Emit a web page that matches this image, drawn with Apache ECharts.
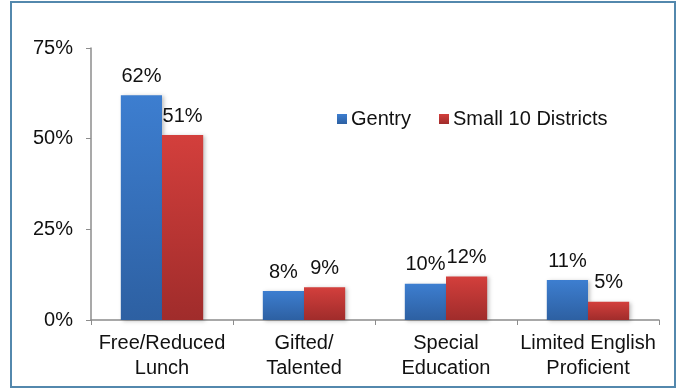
<!DOCTYPE html>
<html>
<head>
<meta charset="utf-8">
<script src="https://cdn.jsdelivr.net/npm/echarts@6/dist/echarts.min.js"></script>
<style>
  html, body { margin: 0; padding: 0; background: #fff; }
  #main { width: 678px; height: 389px; }
</style>
</head>
<body>
<div id="main"></div>
<script>
var categories = ['Free/Reduced\nLunch', 'Gifted/\nTalented', 'Special\nEducation', 'Limited English\nProficient'];
var gentry = [62, 8, 10, 11];
var small10 = [51, 9, 12, 5];
var yTicks = [0, 25, 50, 75];

var FONT = '"Liberation Sans", Arial, sans-serif';

function grad(top, bottom) {
    return new echarts.graphic.LinearGradient(0, 0, 0, 1, [
        { offset: 0, color: top },
        { offset: 1, color: bottom }
    ]);
}

var barLabel = {
    show: true,
    position: 'top',
    distance: 9,
    formatter: '{c}%',
    fontFamily: FONT,
    fontSize: 20,
    color: '#111'
};

var chart = echarts.init(document.getElementById('main'));
chart.setOption({
    animation: false,
    backgroundColor: '#fff',
    graphic: [{
        type: 'rect',
        shape: { x: 11, y: 2, width: 664, height: 385 },
        style: { fill: 'none', stroke: '#5388ad', lineWidth: 2 },
        z: 10
    }],
    legend: {
        left: 332,
        top: 104,
        itemWidth: 10,
        itemHeight: 10,
        itemGap: 28,
        icon: 'rect',
        textStyle: { fontFamily: FONT, fontSize: 20, color: '#111', padding: [0, 0, 0, -1] },
        data: ['Gentry', 'Small 10 Districts']
    },
    grid: { left: 91, right: 19, top: 48, bottom: 69 },
    xAxis: {
        type: 'category',
        data: categories,
        axisLine: { lineStyle: { color: '#8c8c8c', width: 1.5 } },
        axisTick: { show: true, length: 5, lineStyle: { color: '#8c8c8c' } },
        axisLabel: {
            fontFamily: FONT, fontSize: 20, color: '#111',
            lineHeight: 25, margin: 11, interval: 0
        }
    },
    yAxis: {
        type: 'value',
        min: yTicks[0],
        max: yTicks[yTicks.length - 1],
        interval: 25,
        splitLine: { show: false },
        axisLine: { show: true, lineStyle: { color: '#8c8c8c', width: 1.5 } },
        axisTick: { show: true, length: 5, lineStyle: { color: '#8c8c8c' } },
        axisLabel: {
            fontFamily: FONT, fontSize: 20, color: '#111', margin: 18,
            formatter: '{value}%'
        }
    },
    series: [{
        name: 'Gentry',
        type: 'bar',
        data: gentry,
        barGap: '0%',
        barCategoryGap: '42%',
        itemStyle: {
            color: grad('#3d7ed0', '#2d60a2'),
            shadowColor: 'rgba(0,0,0,0.25)', shadowBlur: 4, shadowOffsetX: 2, shadowOffsetY: 1
        },
        label: barLabel
    }, {
        name: 'Small 10 Districts',
        type: 'bar',
        data: small10,
        itemStyle: {
            color: grad('#d33f3c', '#a02c2b'),
            shadowColor: 'rgba(0,0,0,0.25)', shadowBlur: 4, shadowOffsetX: 2, shadowOffsetY: 1
        },
        label: barLabel
    }]
});
</script>
</body>
</html>
